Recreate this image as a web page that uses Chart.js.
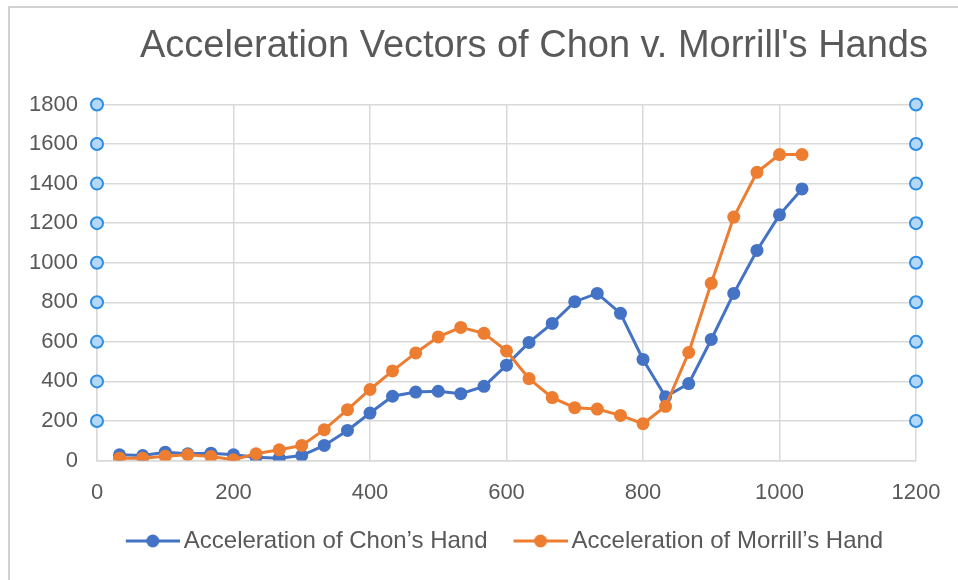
<!DOCTYPE html>
<html><head><meta charset="utf-8">
<script src="https://cdn.jsdelivr.net/npm/chart.js@4.4.1/dist/chart.umd.min.js"></script>
<style>html,body{margin:0;padding:0;background:#fff;overflow:hidden;}</style>
</head><body>
<canvas id="c" width="958" height="580"></canvas>
<script>
const titleText = "Acceleration Vectors of Chon v. Morrill's Hands";
const seriesNames = ["Acceleration of Chon’s Hand", "Acceleration of Morrill’s Hand"];
const xValues = [33,67,100,133,167,200,233,267,300,333,367,400,433,467,500,533,567,600,633,667,700,733,767,800,833,867,900,933,967,1000,1033];
const chonValues = [29,25,42,34,37,29,17,12,25,76,152,240,325,346,350,338,375,482,597,693,803,845,744,511,322,389,612,845,1062,1242,1373];
const morrillValues = [12,12,22,29,20,4,34,54,76,156,257,359,453,544,625,673,643,554,414,318,267,260,228,186,274,546,896,1231,1457,1547,1547];
const xTicks = [0,200,400,600,800,1000,1200];
const yTicks = [0,200,400,600,800,1000,1200,1400,1600,1800];
const handleXs = [0,1200];
const handleYs = [200,400,600,800,1000,1200,1400,1600,1800];

const BLUE = '#4472C4', ORANGE = '#ED7D31', TXT = '#595959', GRID = '#d9d9d9';
const FONT = '"Liberation Sans", Arial, Helvetica, sans-serif';

// legend swatch: line with a dot; the visible part sits in the right 54px of a 78px image
function swatch(color){
  const c = document.createElement('canvas'); c.width = 78; c.height = 16;
  const g = c.getContext('2d');
  g.strokeStyle = color; g.lineWidth = 3;
  g.beginPath(); g.moveTo(24, 8); g.lineTo(78, 8); g.stroke();
  g.fillStyle = color; g.beginPath(); g.arc(51, 8, 6.5, 0, Math.PI*2); g.fill();
  return c;
}
const swatches = [swatch(BLUE), swatch(ORANGE)];

const toPts = (xs, ys) => xs.map((x, i) => ({x, y: ys[i]}));
const handlePts = handleYs.flatMap(y => handleXs.map(x => ({x, y})));

const framePlugin = {
  id: 'frame',
  beforeDraw(chart){
    const ctx = chart.ctx; ctx.save();
    ctx.fillStyle = '#fff'; ctx.fillRect(0, 0, chart.width, chart.height);
    ctx.strokeStyle = '#c4c4c4'; ctx.lineWidth = 1.5;
    ctx.beginPath(); ctx.moveTo(9, chart.height); ctx.lineTo(9, 7); ctx.lineTo(chart.width, 7); ctx.stroke();
    ctx.restore();
  },
  afterDraw(chart){
    const ctx = chart.ctx; ctx.save();
    ctx.font = '38px ' + FONT; ctx.fillStyle = TXT;
    ctx.textAlign = 'center'; ctx.textBaseline = 'middle';
    ctx.fillText(titleText, 534, 47);
    ctx.restore();
  },
  afterLayout(chart){
    const lg = chart.legend; if (lg) { lg.left += 38.5; lg.right += 38.5; }
  }
};

const tickFont = {family: FONT, size: 22};
const plain = v => String(v);
new Chart(document.getElementById('c'), {
  type: 'scatter',
  data: {
    datasets: [
      {label: seriesNames[0], data: toPts(xValues, chonValues), showLine: true, borderColor: BLUE, backgroundColor: BLUE,
       borderWidth: 3, pointRadius: 6.5, pointBorderWidth: 0, pointBackgroundColor: BLUE, order: 2},
      {label: seriesNames[1], data: toPts(xValues, morrillValues), showLine: true, borderColor: ORANGE, backgroundColor: ORANGE,
       borderWidth: 3, pointRadius: 6.5, pointBorderWidth: 0, pointBackgroundColor: ORANGE, order: 1},
      {label: 'handles', data: handlePts, showLine: false, pointRadius: 6, pointBorderWidth: 2,
       pointBorderColor: '#2b8de3', pointBackgroundColor: '#b5d8f7', clip: false, order: 3}
    ]
  },
  options: {
    responsive: false, animation: false,
    layout: {padding: {top: 104.5, left: 0, right: 42, bottom: 17}},
    plugins: {
      title: {display: false}, tooltip: {enabled: false},
      legend: {
        position: 'bottom',
        labels: {
          color: TXT, font: {family: FONT, size: 24}, padding: 10,
          usePointStyle: true, pointStyleWidth: 62,
          generateLabels(chart){
            const items = Chart.defaults.plugins.legend.labels.generateLabels(chart);
            return items.filter(i => i.datasetIndex < 2).map(i => { i.pointStyle = swatches[i.datasetIndex]; return i; });
          },
          sort: (a, b) => a.datasetIndex - b.datasetIndex
        }
      }
    },
    scales: {
      x: {type: 'linear', min: 0, max: 1200,
          afterBuildTicks(s){ s.ticks = xTicks.map(v => ({value: v})); },
          ticks: {color: TXT, font: tickFont, padding: 19, maxRotation: 0, callback: plain},
          grid: {color: GRID, lineWidth: 1.5, drawTicks: false},
          border: {color: GRID, width: 1.5},
          afterFit(s){ s.height = 58.5; s.paddingLeft = 0; s.paddingRight = 0; }},
      y: {type: 'linear', min: 0, max: 1800,
          afterBuildTicks(s){ s.ticks = yTicks.map(v => ({value: v})); },
          ticks: {color: TXT, font: tickFont, padding: 19, callback: plain},
          grid: {color: GRID, lineWidth: 1.5, drawTicks: false},
          border: {color: GRID, width: 1.5},
          afterFit(s){ s.width = 97; s.paddingTop = 0; s.paddingBottom = 0; }}
    }
  },
  plugins: [framePlugin]
});
</script>
</body></html>
